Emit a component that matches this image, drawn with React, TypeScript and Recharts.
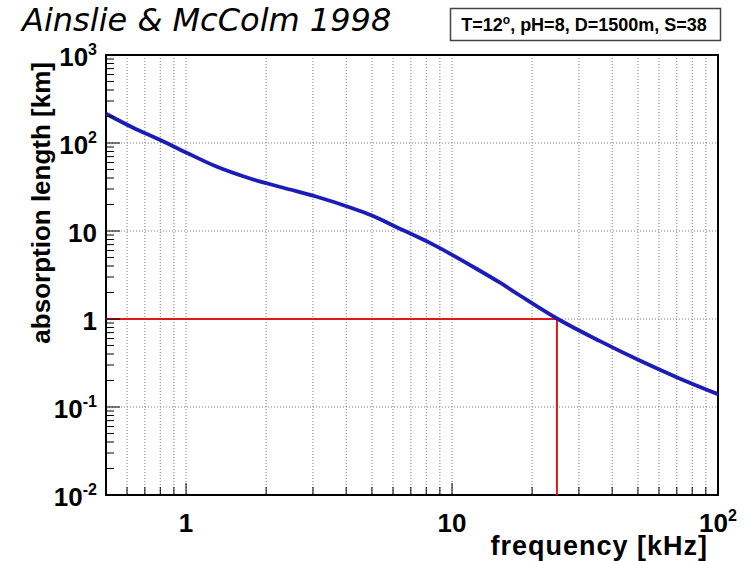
import { LineChart, Line, XAxis, YAxis, CartesianGrid, ReferenceArea } from "recharts";

const frequency = [0.5, 0.63, 0.8, 1.0, 1.3, 1.74, 2.32, 3.1, 4.14, 5.0, 6.02, 8.5, 12.4, 15.1, 18, 25, 36, 51, 72, 100];
const absorptionLength = [215, 150, 108, 78, 54, 39.5, 31, 24.5, 18.5, 15.0, 11.5, 7.0, 3.7, 2.6, 1.85, 1.0, 0.56, 0.335, 0.21, 0.14];

// red guide: 1 km absorption length reached at ~25 kHz
const markerFreq = [0.5, 24.8, 24.8];
const markerLength = [1, 1, 0.01];

const xTicks = [0.6, 0.7, 0.8, 0.9, 1, 2, 3, 4, 5, 6, 7, 8, 9, 10, 20, 30, 40, 50, 60, 70, 80, 90, 100];
const xLabelTicks = [1, 10, 100];
const yTicks = [
  0.01, 0.02, 0.03, 0.04, 0.05, 0.06, 0.07, 0.08, 0.09,
  0.1, 0.2, 0.3, 0.4, 0.5, 0.6, 0.7, 0.8, 0.9,
  1, 2, 3, 4, 5, 6, 7, 8, 9,
  10, 20, 30, 40, 50, 60, 70, 80, 90,
  100, 200, 300, 400, 500, 600, 700, 800, 900,
  1000,
];
const yLabelTicks = [0.01, 0.1, 1, 10, 100, 1000];

const curveData = frequency.map((f, i) => ({ f, len: absorptionLength[i] }));
const markerData = markerFreq.map((f, i) => ({ f, len: markerLength[i] }));

const FONT = "'Liberation Sans', Arial, sans-serif";

function powerText(v: number, x: number, y: number, anchor: "middle" | "end") {
  const exp = Math.round(Math.log10(v));
  const plain = exp === 0 || exp === 1;
  return (
    <text x={x} y={y} textAnchor={anchor} fontFamily={FONT} fontWeight="bold" fontSize={26} fill="#000">
      {plain ? (
        String(v)
      ) : (
        <>
          10
          <tspan dy={-11} fontSize={16}>
            {exp}
          </tspan>
        </>
      )}
    </text>
  );
}

function XTick(props: any) {
  const { x, y, payload } = props;
  const major = xLabelTicks.includes(payload.value);
  return (
    <g>
      <line x1={x} x2={x} y1={y} y2={y - (major ? 12 : 8)} stroke="#000" strokeWidth={1} />
      {major && powerText(payload.value, x, y + 37, "middle")}
    </g>
  );
}

function YTick(props: any) {
  const { x, y, payload } = props;
  const major = yLabelTicks.includes(payload.value);
  return (
    <g>
      <line x1={x} x2={x + (major ? 14 : 8)} y1={y} y2={y} stroke="#000" strokeWidth={1} />
      {major && powerText(payload.value, x - 9, y + 11, "end")}
    </g>
  );
}

export default function App() {
  return (
    <div style={{ position: "absolute", left: 0, top: 0, width: 748, height: 561, background: "#fff" }}>
      <LineChart width={748} height={561} margin={{ top: 55, right: 30, bottom: 0, left: 0 }}>
        <CartesianGrid
          verticalValues={xTicks}
          horizontalValues={yLabelTicks}
          stroke="#7a7a7a"
          strokeDasharray="1 2"
        />
        <XAxis
          dataKey="f"
          type="number"
          scale="log"
          domain={[0.5, 100]}
          allowDataOverflow
          ticks={xTicks}
          interval={0}
          tick={(p: any) => <XTick {...p} />}
          tickLine={false}
          axisLine={false}
          tickSize={0}
          tickMargin={0}
          height={66}
        />
        <YAxis
          type="number"
          scale="log"
          domain={[0.01, 1000]}
          allowDataOverflow
          ticks={yTicks}
          interval={0}
          tick={(p: any) => <YTick {...p} />}
          tickLine={false}
          axisLine={false}
          tickSize={0}
          tickMargin={0}
          width={106}
        />
        <ReferenceArea x1={0.5} x2={100} y1={0.01} y2={1000} fill="none" stroke="#000" strokeWidth={2} />
        <Line
          data={markerData}
          dataKey="len"
          type="linear"
          stroke="#e01818"
          strokeWidth={2}
          dot={false}
          isAnimationActive={false}
        />
        <Line
          data={curveData}
          dataKey="len"
          type="monotone"
          stroke="#1c1cb8"
          strokeWidth={3.8}
          dot={false}
          isAnimationActive={false}
        />
      </LineChart>
      <svg width={748} height={561} style={{ position: "absolute", left: 0, top: 0, pointerEvents: "none" }}>
        <text x={22} y={31} fontFamily="'DejaVu Sans', sans-serif" fontStyle="italic" fontSize={32} fill="#000">
          Ainslie &amp; McColm 1998
        </text>
        <rect x={450.5} y={8.5} width={270} height={32} fill="#fff" stroke="#444" strokeWidth={1.5} />
        <text x={584} y={31} textAnchor="middle" fontFamily={FONT} fontWeight="bold" fontSize={18} fill="#000">
          T=12<tspan dy={-7} fontSize={12}>o</tspan>
          <tspan dy={7}>, pH=8, D=1500m, S=38</tspan>
        </text>
        <text
          transform="translate(50,62) rotate(-90)"
          textAnchor="end"
          fontFamily={FONT}
          fontWeight="bold"
          fontSize={26}
          fill="#000"
        >
          absorption length [km]
        </text>
        <text
          x={708}
          y={555}
          textAnchor="end"
          fontFamily={FONT}
          fontWeight="bold"
          fontSize={27}
          letterSpacing={1}
          fill="#000"
        >
          frequency [kHz]
        </text>
      </svg>
    </div>
  );
}
